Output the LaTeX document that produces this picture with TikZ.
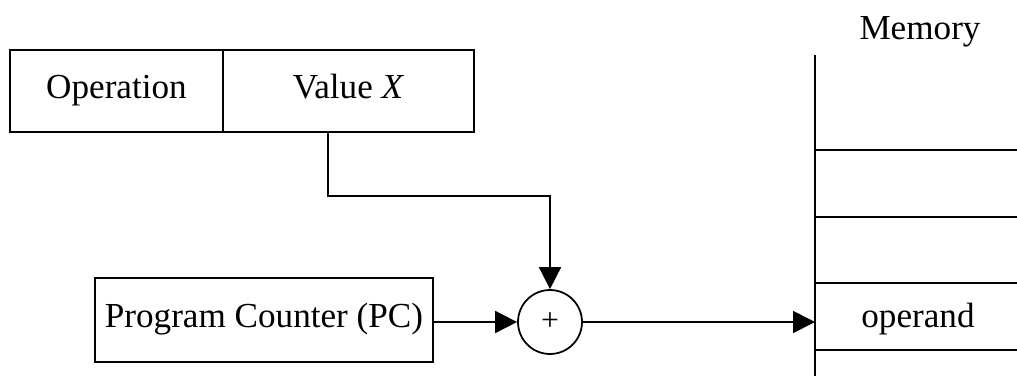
\documentclass[tikz,border=0pt]{standalone}
\usepackage{fontspec}
\setmainfont{Liberation Serif}
\usetikzlibrary{arrows.meta}

\begin{document}
\begin{tikzpicture}[x=0.02cm,y=-0.02cm,line width=1pt,
    font=\fontsize{20}{24}\selectfont,
    lbl/.style={text height=2ex,text depth=0.2ex},
    box/.style={lbl,draw,rectangle,inner sep=0pt,minimum height=1.64cm},
    arr/.style={-{Triangle[length=4.4mm,width=4.4mm]}}]
        \useasboundingbox (0,0) rectangle (1017,376);
        \node[box,minimum width=4.26cm] (opbox) at (116.5,91) {Operation};
        \node[box,minimum width=5.02cm] (valbox) at (348.5,91) {Value \textit{X}};
        \node[box,minimum width=6.76cm,minimum height=1.68cm] (pcbox) at (264,320) {Program Counter (PC)};
        \node[draw,circle,inner sep=0pt,minimum size=1.28cm,font=\fontsize{18}{20}\selectfont] (plus) at (550,322) {+};
        \draw (815,55) -- (815,376);
        \foreach \y in {150,217,283,350}
          \draw (815,\y) -- (1017,\y);
        \node[lbl] (memlabel) at (920,32) {Memory};
        \node[lbl] (operand) at (918,320) {operand};
        \coordinate (mem) at (815,322);
        \draw[arr] ([xshift=-0.41cm]valbox.south) -- ++(0,63) -| (plus.north);
        \draw[arr] (pcbox.east |- plus.west) -- (plus.west);
        \draw[arr] (plus.east) -- (mem);
      \end{tikzpicture}
\end{document}
